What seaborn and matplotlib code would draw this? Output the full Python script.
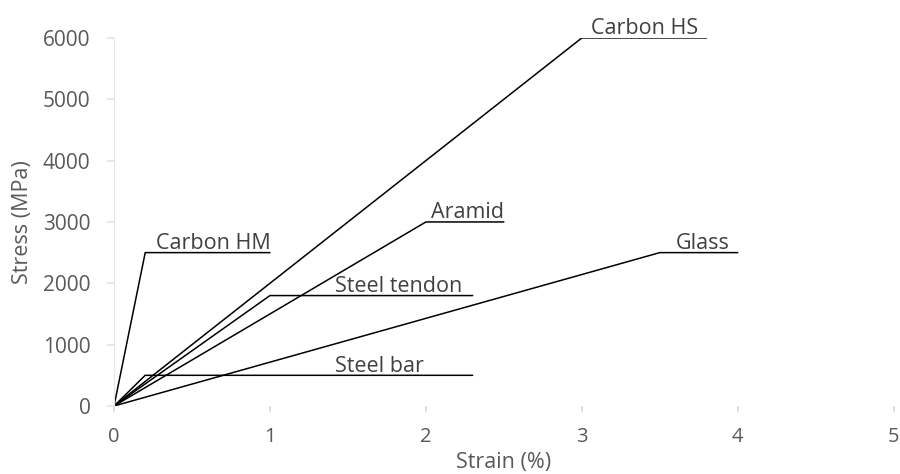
import numpy as np
import pandas as pd
import seaborn as sns
import matplotlib.pyplot as plt

# stress-strain curves (bilinear: origin -> failure point -> label shelf)
materials = ["Carbon HM", "Carbon HS", "Aramid", "Glass", "Steel tendon", "Steel bar"]
strain_knee = [0.2, 3.0, 2.0, 3.5, 1.0, 0.2]      # %
stress_knee = [2500, 6000, 3000, 2500, 1800, 500]  # MPa
strain_end = [1.0, 3.8, 2.5, 4.0, 2.3, 2.3]       # end of horizontal shelf

rows = []
for m, xk, yk, xe in zip(materials, strain_knee, stress_knee, strain_end):
    rows += [(m, 0, 0.0, 0.0), (m, 1, xk, yk), (m, 2, xe, yk)]
df = pd.DataFrame(rows, columns=["material", "order", "strain", "stress"])

sns.set_theme(style="white")
plt.rcParams['font.family'] = ['Open Sans', 'DejaVu Sans']

fig = plt.figure(figsize=(9, 4.74), dpi=100)
ax = fig.add_axes([0.1267, 0.1435, 0.8663, 0.7765])

sns.lineplot(data=df, x="strain", y="stress", units="material", estimator=None,
             sort=False, color="black", lw=1.1, ax=ax)

# label text placed just above each shelf
label_x = {"Carbon HM": 0.27, "Carbon HS": 3.06, "Aramid": 2.03,
           "Glass": 3.6, "Steel tendon": 1.42, "Steel bar": 1.42}
for m, yk in zip(materials, stress_knee):
    ax.annotate(m, (label_x[m], yk), xytext=(0, -1), textcoords="offset points",
                ha="left", va="bottom", fontsize=15.5, color="#404040",
                annotation_clip=False)

ax.set_xlim(0, 5)
ax.set_ylim(0, 6000)
ax.set_xticks(range(0, 6))
ax.set_yticks(range(0, 7000, 1000))
ax.tick_params(axis="x", labelsize=14.5, labelcolor="#595959", length=4,
               color="#d9d9d9", bottom=True, pad=11)
ax.tick_params(axis="y", labelsize=15, labelcolor="#595959", length=5,
               color="#ecdede", left=True, pad=12)
ax.set_xlabel("Strain (%)", fontsize=15.5, color="#595959", labelpad=4)
ax.set_ylabel("Stress (MPa)", fontsize=15.5, color="#595959", labelpad=7)

for s in ["top", "right", "bottom"]:
    ax.spines[s].set_visible(False)
ax.spines["left"].set_color("#e6e6e6")
ax.spines["left"].set_linewidth(0.8)

fig.savefig("out.png", dpi=100)
